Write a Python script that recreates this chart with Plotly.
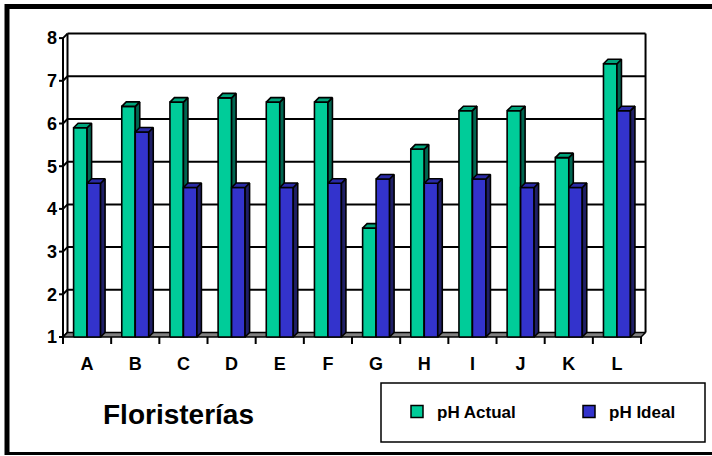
import plotly.graph_objects as go

# ---------------- data ----------------
categories = ["A", "B", "C", "D", "E", "F", "G", "H", "I", "J", "K", "L"]
ph_actual = [5.9, 6.4, 6.5, 6.6, 6.5, 6.5, 3.55, 5.4, 6.3, 6.3, 5.2, 7.4]
ph_ideal = [4.6, 5.8, 4.5, 4.5, 4.5, 4.6, 4.7, 4.6, 4.7, 4.5, 4.5, 6.3]
y_ticks = [1, 2, 3, 4, 5, 6, 7, 8]
series_names = ["pH Actual", "pH Ideal"]
x_title = "Floristerías"

# ---------------- layout constants ----------------
W, H = 712, 456
PL, PR, PT, PB = 58, 652, 28, 346          # plot area in pixels
X0PX, CATPX = 63, 48.17                   # px of category boundary -0.5, px per category
Y1PX, UNITPX = 337, 42.7                  # px of value 1, px per unit
FONT = "Liberation Sans, Arial, sans-serif"

def xval(px):
    return (px - X0PX) / CATPX - 0.5

def yval(py):
    return 1 + (Y1PX - py) / UNITPX

def paper_x(px):
    return (px - PL) / (PR - PL)

def paper_y(py):
    return (PB - py) / (PB - PT)

DX = 4.5 / CATPX     # depth offset in category units
DY = 4.5 / UNITPX    # depth offset in value units
BW = 0.28            # bar width
YMIN, YMAX = min(y_ticks), max(y_ticks)
XL, XR = -0.5, len(categories) - 0.5

GREEN = ("#00CC99", "#00A47B", "#006651")
BLUE = ("#3333CC", "#2A2AA6", "#1F1F66")

fig = go.Figure()

def add_lines(xs, ys, width=2, color="black"):
    fig.add_trace(go.Scatter(x=xs, y=ys, mode="lines", line=dict(color=color, width=width),
                             hoverinfo="skip", showlegend=False))

# back wall grid lines and edges, side-wall diagonals, left front edge
gx, gy = [], []
for v in y_ticks[1:]:
    gx += [XL + DX, XR + DX, None]
    gy += [v + DY, v + DY, None]
for v in y_ticks:
    gx += [XL, XL + DX, None]
    gy += [v, v + DY, None]
for xe in (XL + DX, XR + DX):
    gx += [xe, xe, None]
    gy += [YMIN + DY, YMAX + DY, None]
gx += [XL, XL, None]
gy += [YMIN, YMAX, None]
add_lines(gx, gy)

# floor
fig.add_trace(go.Scatter(
    x=[XL, XR, XR + DX, XL + DX, XL], y=[YMIN, YMIN, YMIN + DY, YMIN + DY, YMIN],
    mode="lines", fill="toself", fillcolor="#808080", line=dict(color="black", width=1.5),
    hoverinfo="skip", showlegend=False))

# ticks
tx, ty = [], []
for v in y_ticks:
    tx += [XL - 4 / CATPX, XL, None]
    ty += [v, v, None]
for i in range(len(categories) + 1):
    tx += [XL + i, XL + i, None]
    ty += [YMIN, YMIN - 7 / UNITPX, None]
add_lines(tx, ty)

# 3D bars
def add_series(values, offset, colors):
    fx, fy, sx, sy, ux, uy = [], [], [], [], [], []
    for i, v in enumerate(values):
        xl = i + offset
        xr = xl + BW
        fx += [xl, xr, xr, xl, xl, None]
        fy += [YMIN, YMIN, v, v, YMIN, None]
        sx += [xr, xr + DX, xr + DX, xr, xr, None]
        sy += [YMIN, YMIN + DY, v + DY, v, YMIN, None]
        ux += [xl, xl + DX, xr + DX, xr, xl, None]
        uy += [v, v + DY, v + DY, v, v, None]
    for xs, ys, c in ((fx, fy, colors[0]), (sx, sy, colors[2]), (ux, uy, colors[1])):
        fig.add_trace(go.Scatter(x=xs, y=ys, mode="lines", fill="toself", fillcolor=c,
                                 line=dict(color="black", width=1.6),
                                 hoverinfo="skip", showlegend=False))

add_series(ph_actual, -BW, GREEN)
add_series(ph_ideal, 0, BLUE)

# legend entries
for name, c in zip(series_names, (GREEN[0], BLUE[0])):
    fig.add_trace(go.Scatter(x=[None], y=[None], mode="markers", name=name,
                             marker=dict(symbol="square", size=12, color=c,
                                         line=dict(color="black", width=1.5))))

shapes = [
    # legend box
    dict(type="rect", xref="paper", yref="paper",
         x0=paper_x(381), x1=paper_x(705), y0=paper_y(442), y1=paper_y(383),
         line=dict(color="black", width=1.5)),
    # outer frame
    dict(type="line", xref="paper", yref="paper", x0=paper_x(5), x1=paper_x(712),
         y0=paper_y(6.5), y1=paper_y(6.5), line=dict(color="black", width=5)),
    dict(type="line", xref="paper", yref="paper", x0=paper_x(7), x1=paper_x(7),
         y0=paper_y(4), y1=paper_y(455), line=dict(color="black", width=5)),
    dict(type="line", xref="paper", yref="paper", x0=paper_x(5), x1=paper_x(712),
         y0=paper_y(453.5), y1=paper_y(453.5), line=dict(color="black", width=3)),
]

fig.update_layout(
    width=W, height=H,
    margin=dict(l=PL, r=W - PR, t=PT, b=H - PB, pad=0, autoexpand=False),
    paper_bgcolor="white", plot_bgcolor="white",
    font=dict(family=FONT, color="black"),
    showlegend=True,
    legend=dict(orientation="h", x=paper_x(397), y=paper_y(412), xanchor="left", yanchor="middle",
                font=dict(family=FONT, size=17, weight="bold"),
                entrywidth=127, bgcolor="rgba(0,0,0,0)", borderwidth=0),
    shapes=shapes,
    annotations=[dict(text=x_title, xref="paper", yref="paper", x=paper_x(178), y=paper_y(414),
                      xanchor="center", yanchor="middle", showarrow=False,
                      font=dict(family=FONT, size=28, weight="bold"))],
    xaxis=dict(range=[xval(PL), xval(PR)], tickvals=list(range(len(categories))), ticktext=categories,
               ticks="", showgrid=False, zeroline=False, showline=False,
               tickfont=dict(family=FONT, size=18, weight="bold"), ticklabelstandoff=5),
    yaxis=dict(range=[yval(PB), yval(PT)], tickvals=y_ticks, ticks="", showgrid=False,
               zeroline=False, showline=False,
               tickfont=dict(family=FONT, size=18, weight="bold")),
)

fig.write_html("out.html", config={"displayModeBar": False},
               post_script="document.body.style.margin='0';document.body.style.overflow='hidden';")
